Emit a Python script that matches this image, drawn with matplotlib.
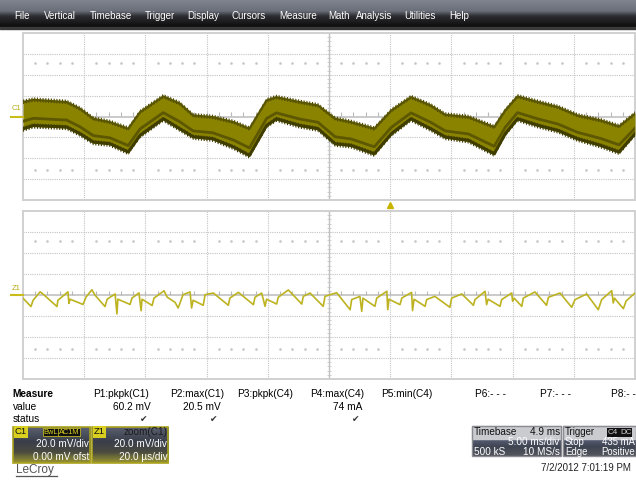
import numpy as np
import matplotlib
matplotlib.use("Agg")
import matplotlib.pyplot as plt
from matplotlib.patches import Rectangle
from matplotlib.colors import LinearSegmentedColormap

plt.rcParams['font.family'] = ['Liberation Sans', 'DejaVu Sans']
plt.rcParams['hatch.linewidth'] = 0.8

# ---------------- data ----------------
# C1 channel (top): 5 ms/div, 20 mV/div -> envelope of the noisy band
c1_t_ms = [0, 0.84, 3.57, 4.66, 5.74, 7.1, 8.6, 9.56, 11.46, 12.8, 13.9, 15.5, 17.2, 18.5,
           19.9, 20.7, 22.6, 24.1, 25.5, 26.8, 28.7, 30.1, 31.7, 33.3, 34.5, 36.4, 38.5,
           39.4, 40.4, 42.1, 43.7, 45.3, 47.2, 48.7, 50]
c1_upper_mV = [14.4, 16.6, 14.4, 8.0, -1.5, -4.8, -11.1, 4.8, 19.8, 13.1, 1.6, 0, -4.8, -11.1,
               16.0, 19.1, 14.4, 11.2, -1.5, -4.8, -11.1, 6.4, 19.1, 11.2, 2.3, 0, -9.6,
               6.4, 19.8, 14.4, 9.6, 1.6, -3.2, -8.9, 3.3]
c1_lower_mV = [-12.7, -9.6, -11.1, -17.5, -25.5, -27.1, -35.0, -19.1, -3.2, -12.7, -20.4, -22.3, -30.2, -38.3,
               -9.6, -3.2, -9.6, -12.7, -27.1, -28.7, -36.7, -17.5, -3.2, -12.7, -20.7, -23.9, -36.7,
               -17.5, -3.2, -9.6, -14.4, -22.3, -28.7, -35.0, -17.5]

# Z1 = zoom(C1) (bottom): 20 us/div, 20 mV/div
z1_t_us = [0, 2.6, 3.3, 5.6, 6.5, 11.1, 11.4, 14.7, 15.0, 15.4, 19.6, 20.6, 22.5, 23.5, 26.8, 27.5,
           30.1, 30.7, 31.0, 35.0, 35.6, 37.9, 38.6, 38.9, 42.2, 42.8, 46.1, 47.1, 49.7, 50.7,
           52.3, 54.6, 55.1, 55.6, 58.9, 59.5, 62.2, 67.1, 67.6, 70.4, 75.3, 75.8, 78.0, 79.1,
           79.6, 82.9, 83.4, 86.7, 91.1, 91.6, 93.8, 98.1, 98.7, 102.5, 106.9, 107.4, 110.1,
           110.7, 111.1, 115.0, 115.6, 118.9, 119.2, 119.6, 123.2, 123.8, 127.0, 127.3, 127.8,
           131.4, 131.9, 134.6, 139.5, 140.1, 143.4, 147.2, 147.7, 151.0, 151.5, 152.0, 155.9,
           156.4, 159.7, 160.0, 160.5, 163.0, 163.5, 167.3, 171.1, 171.7, 175.5, 179.3, 180.4,
           184.2, 188.0, 189.1, 192.4, 192.9, 193.3, 196.2, 197.1, 200.0]
z1_mV = [-3, -11, -5, 3, 1, -11, -5, 3, -8, -4, -9, -2, 5, 0, -11, -4,
         1, -18, -4, -9, -3, 2, -15, -4, -10, -3, 4, -2, -7, -12.4,
         0.3, 2.9, -12.4, -5, -9.8, 0.3, 1.9, -9.8, -2.9, 2.5, -9.2, -2.2, 1.9, -10.8,
         -4, -8.6, -2.2, 4.8, -8.6, -1.3, 1.9, -10.8, -1.3, 2.2, -14, -4.4, -1.3,
         -15.6, -3, -10.8, -2.9, 3.5, -14, -4, -9.2, -2.9, 2.5, -14.9, -4,
         -10.8, -4.4, -1.3, -11.7, -2.9, 1.0, -9.8, -4.4, 3.5, -9.2, -4, -10.8,
         -4.4, 1.9, -6, -3, -10.8, -2.9, 2.9, -9.8, -2.2, 1.9, -11.7, -4.4,
         1.0, -14, -4.4, 4.1, -7.6, -3, -13, -5.7, 1.9]

menu_items = ["File", "Vertical", "Timebase", "Trigger", "Display", "Cursors",
              "Measure", "Math", "Analysis", "Utilities", "Help"]
measure_headers = ["P1:pkpk(C1)", "P2:max(C1)", "P3:pkpk(C4)", "P4:max(C4)",
                   "P5:min(C4)", "P6:- - -", "P7:- - -", "P8:- -"]
measure_values = ["60.2 mV", "20.5 mV", "", "74 mA", "", "", "", ""]
measure_status = [True, True, False, True, False, False, False, False]

# ---------------- figure ----------------
W, H = 636, 480
fig = plt.figure(figsize=(W / 100, H / 100), dpi=100)
fig.patch.set_facecolor('white')

def px_axes(x0, y0, x1, y1):
    return fig.add_axes([x0 / W, 1 - y1 / H, (x1 - x0) / W, (y1 - y0) / H])

GRID = '#c4c4c4'

def setup_panel(ax, xmax):
    ax.set_xlim(0, xmax)
    ax.set_ylim(-80, 80)
    ax.set_xticks([]); ax.set_yticks([])
    for s in ax.spines.values():
        s.set_color('#d0d0d0'); s.set_linewidth(1.4)
    dx = xmax / 10.0
    for i in range(1, 10):
        if i == 5:
            ax.axvline(i * dx, color='#c0c0c0', lw=1.0, zorder=1)
        else:
            ax.axvline(i * dx, color=GRID, lw=0.8, ls=(0, (1, 1)), zorder=1)
    for j in range(-3, 4):
        if j == 0:
            ax.axhline(0, color='#bcbcbc', lw=1.1, zorder=1)
        else:
            ax.axhline(j * 20, color=GRID, lw=0.8, ls=(0, (1, 1)), zorder=1)
    sub = np.arange(0, xmax + 1e-9, dx / 5)
    ax.plot(sub, np.full_like(sub, 2.0), ls='none', marker='|', ms=3, mew=0.8,
            color='#b8b8b8', zorder=1)
    subv = np.arange(-80, 80.1, 4)
    ax.plot(np.full_like(subv, 5 * dx), subv, ls='none', marker='_', ms=3, mew=0.6,
            color='#c8c8c8', zorder=1)
    for yy in (51, -51):
        dots = [x for x in sub if abs((x / dx) - round(x / dx)) > 1e-6]
        ax.plot(dots, [yy] * len(dots), ls='none', marker='o', ms=0.9, color='#c8c8c8', zorder=1)

# top panel
ax1 = px_axes(23, 33, 635, 200)
setup_panel(ax1, 50)
t = np.array(c1_t_ms); up = np.array(c1_upper_mV); lo = np.array(c1_lower_mV)
ax1.fill_between(t, lo, up, color='#8a8300', lw=0, zorder=3)
# dark noisy fringes on both edges and a darker core streak
ax1.fill_between(t, up - 2.5, up + 1.8, facecolor='none', edgecolor='#4a4600',
                 hatch='||||||', lw=0, zorder=4)
ax1.plot(t, up - 0.6, color='#5a5600', lw=1.6, zorder=4)
ax1.fill_between(t, lo - 2.0, lo + 3.0, facecolor='none', edgecolor='#3c3a00',
                 hatch='||||||', lw=0, zorder=4)
ax1.plot(t, lo + 1.0, color='#403d00', lw=2.2, zorder=4)
ax1.plot(t, up + 0.7 * (lo - up), color='#5c5700', lw=2.0, zorder=4)

# bottom panel
ax2 = px_axes(23, 211, 635, 379)
setup_panel(ax2, 200)
ax2.plot(z1_t_us, z1_mV, color='#bdb321', lw=1.2, zorder=4)

# ---------------- overlay (pixel coordinates) ----------------
ov = fig.add_axes([0, 0, 1, 1], zorder=5)
ov.patch.set_alpha(0)
ov.axis('off')

def vgrad(x0, y0, x1, y1, colors, stops=None):
    cmap = LinearSegmentedColormap.from_list('g', list(zip(stops, colors)) if stops else colors)
    g = np.linspace(0, 1, 64).reshape(-1, 1)
    ov.imshow(g, cmap=cmap, extent=(x0, x1, y1, y0), aspect='auto', interpolation='bilinear', zorder=1)

# menu bar
vgrad(0, 0, W, 27, ['#80848f', '#6b6f7a', '#2c2d31', '#0d0d0d'], [0, 0.4, 0.6, 1.0])
ov.add_patch(Rectangle((0, 27), W, 2, color='#3a3a3a', zorder=2))
menu_x = [14, 44, 90, 145, 187, 231, 279, 328, 356, 404, 449]
for name, x in zip(menu_items, menu_x):
    ov.text(x, 16, name, color='white', fontsize=7, va='center', ha='left', zorder=3)

# channel markers
ov.text(12, 109, 'C1', color='#b5ab10', fontsize=5.5, va='center', ha='left', zorder=3)
ov.plot([11, 23], [116.7, 116.7], color='#c8bd1a', lw=1.5, zorder=3)
ov.text(12, 288, 'Z1', color='#b5ab10', fontsize=5.5, va='center', ha='left', zorder=3)
ov.plot([11, 23], [295, 295], color='#c8bd1a', lw=1.5, zorder=3)
ov.plot([390], [204.5], marker='^', ms=5, color='#c8b400', zorder=3)

# measure table
FS = 7.3
ov.text(12.5, 394, 'Measure', fontsize=FS, fontweight='bold', va='center', zorder=3)
ov.text(12.5, 406.7, 'value', fontsize=FS, va='center', zorder=3)
ov.text(12.5, 419, 'status', fontsize=FS, va='center', zorder=3)
head_x = [92.7, 170, 237.3, 310, 381.3, 474.7, 539.7, 611.3]
val_right = [150.7, 220.7, 290, 362, 428.7, 500.7, 568, 636]
for h, v, s, x, xr in zip(measure_headers, measure_values, measure_status, head_x, val_right):
    ov.text(x, 394, h, fontsize=FS, va='center', ha='left', zorder=3)
    if v:
        ov.text(xr, 406.7, v, fontsize=FS, va='center', ha='right', zorder=3)
    if s:
        ov.text(xr - 3, 419.5, '\u2714', fontsize=6.5, va='center', ha='right', color='#333333', zorder=3)

# channel descriptor boxes
def chan_box(x0, x1, tag, right_top, lines):
    y0, y1 = 426.7, 462.7
    vgrad(x0, y0, x1, y1, ['#5a6070', '#3a3e4a', '#4a4b40', '#9a9530'], [0, 0.4, 0.7, 1.0])
    ov.add_patch(Rectangle((x0, y0), x1 - x0, y1 - y0, fill=False, ec='#aaa21e', lw=1.2, zorder=2))
    ov.text(x0 + 2, y0 + 5.2, tag, fontsize=6.8, va='center', ha='left', color='#111111',
            bbox=dict(boxstyle='square,pad=0.12', fc='#d8cf20', ec='none'), zorder=3)
    right_top(x1)
    for y, s in zip((444.3, 456.7), lines):
        ov.text(x1 - 1, y, s, fontsize=7.2, va='center', ha='right', color='white', zorder=3)

def c1_tags(x1):
    ov.text(43.5, 432, 'BwL', fontsize=5.3, va='center', ha='left', color='#d8cf20',
            bbox=dict(boxstyle='square,pad=0.1', fc='#111111', ec='#d8cf20', lw=0.5), zorder=3)
    ov.text(58.5, 432, 'AC1M', fontsize=5.3, va='center', ha='left', color='#d8cf20',
            bbox=dict(boxstyle='square,pad=0.1', fc='#111111', ec='#d8cf20', lw=0.5), zorder=3)

def z1_tags(x1):
    ov.text(x1 - 1, 432, 'zoom(C1)', fontsize=7.2, va='center', ha='right', color='#1a1a1a', zorder=3)

chan_box(12.7, 90, 'C1', c1_tags, ['20.0 mV/div', '0.00 mV ofst'])
chan_box(91.7, 168.3, 'Z1', z1_tags, ['20.0 mV/div', '20.0 \u00b5s/div'])

# LeCroy logo
ov.text(16, 470.5, 'LeCroy', fontsize=8.5, va='center', ha='left', color='#555555', zorder=3)
ov.plot([16, 56.5], [476, 476], color='#555555', lw=0.9, zorder=3)

# timebase / trigger boxes
def info_box(x0, x1, title, title_r, rows, fs=7.2):
    y0, y1 = 426, 456
    ov.add_patch(Rectangle((x0, y0), x1 - x0, 12.5, color='#c9cbcf', zorder=2))
    vgrad(x0, y0 + 12.5, x1, y1, ['#5b6178', '#3f4452', '#55575e'], [0, 0.5, 1.0])
    ov.add_patch(Rectangle((x0, y0), x1 - x0, y1 - y0, fill=False, ec='#8a8c92', lw=1.0, zorder=2))
    ov.text(x0 + 2, 432.3, title, fontsize=fs, va='center', ha='left', color='#111111', zorder=3)
    title_r(x1)
    for y, (l, r) in zip((442.3, 451.7), rows):
        if l:
            ov.text(x0 + 2, y, l, fontsize=fs, va='center', ha='left', color='white', zorder=3)
        if r:
            ov.text(x1 - 1.5, y, r, fontsize=fs, va='center', ha='right', color='white', zorder=3)

def tb_r(x1):
    ov.text(x1 - 1, 432.3, '4.9 ms', fontsize=7.2, va='center', ha='right', color='#111111', zorder=3)

def trig_r(x1):
    ov.text(607.5, 432.3, 'C4', fontsize=5.8, va='center', ha='left', color='#d0d0d0',
            bbox=dict(boxstyle='square,pad=0.1', fc='#111111', ec='none'), zorder=3)
    ov.text(620, 432.3, 'DC', fontsize=5.8, va='center', ha='left', color='#d0d0d0',
            bbox=dict(boxstyle='square,pad=0.1', fc='#111111', ec='none'), zorder=3)

info_box(472, 561, 'Timebase', tb_r, [('', '5.00 ms/div'), ('500 kS', '10 MS/s')])
info_box(563, 636, 'Trigger', trig_r, [('Stop', '435 mA'), ('Edge', 'Positive')], fs=6.9)

ov.text(541.3, 468, '7/2/2012 7:01:19 PM', fontsize=7, va='center', ha='left', color='#222222', zorder=3)

ov.set_xlim(0, W)
ov.set_ylim(H, 0)

fig.savefig('out.png', dpi=100, facecolor='white')
